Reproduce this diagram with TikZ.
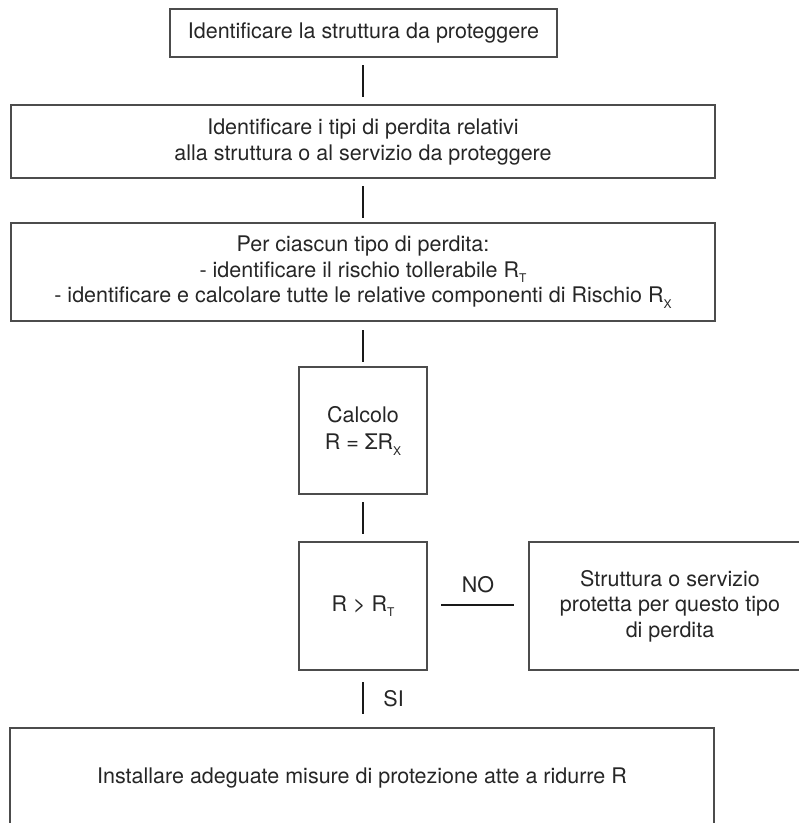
\documentclass[tikz,border=0pt]{standalone}
\usepackage{fontspec}
\setmainfont{TeX Gyre Heros}
\newcommand{\subsc}[1]{\raisebox{-0.5ex}{\fontsize{12}{12}\selectfont #1}}
\begin{document}
\begin{tikzpicture}[x=1pt,y=-1pt,
  every node/.style={font=\fontsize{21.5}{25.5}\selectfont, text=black!85},
  boxstyle/.style={draw=black!70, line width=1.2pt},
  conn/.style={draw=black!90, line width=2.2pt}]
\useasboundingbox (0,0) rectangle (799,823);
% boxes
\draw[boxstyle] (170,9) rectangle (557,57);
\node (b1) at (363.5,33) {Identificare la struttura da proteggere};
\coordinate (b1s) at (363,57);
\draw[boxstyle] (11,105) rectangle (715,178);
\node[align=center] (b2) at (363,142) {Identificare i tipi di perdita relativi\\alla struttura o al servizio da proteggere};
\coordinate (b2n) at (363,105);
\coordinate (b2s) at (363,178);
\draw[boxstyle] (11,223) rectangle (715,321);
\node[align=center] (b3) at (363,272) {Per ciascun tipo di perdita:\\- identificare il rischio tollerabile R\subsc{T}\\- identificare e calcolare tutte le relative componenti di Rischio R\subsc{X}};
\coordinate (b3n) at (363,223);
\coordinate (b3s) at (363,321);
\draw[boxstyle] (299,367) rectangle (427,494);
\node[align=center] (b4) at (363,431) {Calcolo\\[2pt]R = ΣR\subsc{X}};
\coordinate (b4n) at (363,367);
\coordinate (b4s) at (363,494);
\draw[boxstyle] (299,542) rectangle (427,670);
\node (b5) at (363,606) {R > R\subsc{T}};
\coordinate (b5n) at (363,542);
\coordinate (b5s) at (363,670);
\coordinate (b5e) at (427,605);
\draw[boxstyle] (529,542) rectangle (811,670);
\node[align=center] (b6) at (670,606) {Struttura o servizio\\protetta per questo tipo\\di perdita};
\coordinate (b6w) at (529,605);
\draw[boxstyle] (10,728) rectangle (714,860);
\node (b7) at (362,778) {Installare adeguate misure di protezione atte a ridurre R};
\coordinate (b7n) at (363,728);
% connectors
\draw[conn, shorten <=8pt, shorten >=8pt] (b1s) -- (b2n);
\draw[conn, shorten <=8pt, shorten >=5pt] (b2s) -- (b3n);
\draw[conn, shorten <=9pt, shorten >=5pt] (b3s) -- (b4n);
\draw[conn, shorten <=8pt, shorten >=8pt] (b4s) -- (b5n);
\draw[conn, shorten <=14pt, shorten >=15pt] (b5e) -- node[above=8pt] {NO} (b6w);
\draw[conn, shorten <=12pt, shorten >=14pt] (b5s) -- node[right=16pt] {SI} (b7n);
\end{tikzpicture}
\end{document}
